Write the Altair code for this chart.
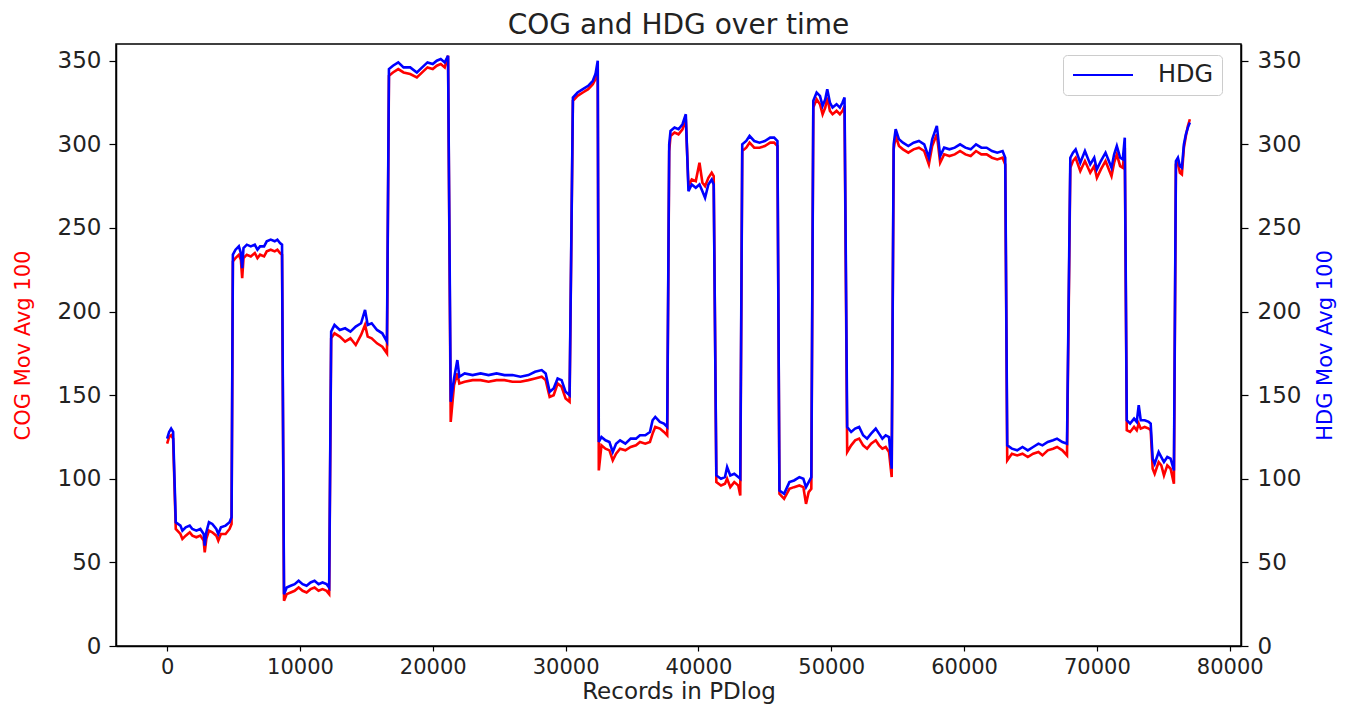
import altair as alt
import pandas as pd

# Record index (x) and moving-average values
records = [
    0, 150, 300, 450, 650,
    1000, 1150, 1400, 1700, 1900, 2200, 2500, 2750, 2830, 2950, 3150, 3400, 3700, 3850, 4050, 4400, 4700, 4850,
    4950, 5150, 5400, 5550, 5650, 5750, 6000, 6300, 6600, 6800, 7000, 7300, 7500, 7800, 8100, 8300, 8500, 8650,
    8800, 9000, 9300, 9600, 9900, 10200, 10500, 10800, 11100, 11400, 11700, 12000, 12200,
    12350, 12600, 13000, 13400, 13800, 14200, 14600, 14900, 15100, 15400, 15800, 16200, 16550,
    16700, 17000, 17400, 17800, 18300, 18800, 19200, 19600, 20000, 20300, 20600, 20900, 21150,
    21350, 21600, 21850, 22000, 22400, 23000, 23600, 24200, 24800, 25400, 26000, 26600, 27200, 27700, 28200, 28500, 28800, 29100, 29400, 29700, 30000, 30300,
    30550, 30900, 31300, 31700, 32050, 32250, 32420,
    32500, 32700, 33000, 33300, 33550, 33800, 34100, 34500, 34900, 35300, 35600, 36000, 36350, 36550, 36750, 37100, 37400, 37650,
    37800, 37900, 38200, 38500, 38800, 39050,
    39250, 39500, 39800, 40080, 40300, 40500, 40750, 41000, 41150,
    41350, 41700, 42000, 42160, 42400, 42700, 43000, 43150,
    43300, 43600, 43850, 44200, 44600, 45000, 45400, 45700, 45950,
    46100, 46450, 46850, 47200, 47600, 47900, 48100, 48300, 48500,
    48650, 48900, 49150, 49350, 49550, 49700, 49900, 50100, 50400, 50650, 50850, 51000,
    51200, 51500, 51800, 52100, 52400, 52700, 53000, 53350, 53600, 53850, 54100, 54350, 54550,
    54700, 54850, 55100, 55400, 55800, 56200, 56600, 57000, 57350, 57600, 57950, 58200, 58500, 58900, 59300, 59700, 60100, 60500, 60900, 61300, 61700, 62100, 62500, 62900, 63100,
    63250, 63600, 64000, 64400, 64800, 65200, 65600, 65900, 66300, 66700, 67000, 67400, 67750,
    68000, 68200, 68400, 68750, 69100, 69500, 69800, 70000, 70300, 70650, 70900, 71100, 71300, 71500, 71750, 71950, 72100,
    72250, 72500, 72800, 73000, 73150, 73300, 73600, 73900, 74050,
    74200, 74350, 74650, 74850, 75050, 75300, 75550, 75800,
    75950, 76100, 76250, 76400, 76550, 76700, 76850, 77000,
]

cog = [
    121, 125, 126, 124, 70,
    67, 64, 66, 68, 66, 65, 66, 63, 56, 64, 69, 68, 66, 63, 67, 67, 70, 73,
    230, 232, 234, 231, 220, 232, 234, 233, 235, 232, 234, 233, 236, 237, 236, 237, 235, 234,
    27, 31, 32, 33, 35, 33, 32, 34, 35, 33, 34, 33, 31,
    184, 187, 185, 182, 184, 180, 186, 192, 185, 184, 181, 179, 175,
    341, 343, 345, 343, 342, 340, 343, 346, 345, 347, 348, 346, 353,
    134, 156, 163, 157, 158, 159, 159, 158, 159, 159, 158, 158, 159, 160, 161, 159, 149, 150, 157, 155, 148, 146,
    326, 329, 331, 333, 336, 339, 345,
    105, 120, 118, 117, 111, 115, 118, 117, 119, 120, 122, 121, 122, 127, 131, 130, 128, 126,
    296, 305, 307, 306, 309, 315,
    275, 279, 278, 289, 277, 275, 280, 283, 281,
    98, 96, 97, 100, 95, 98, 96, 90,
    296, 298, 301, 298, 298, 299, 301, 301, 299,
    91, 88, 94, 95, 96, 95, 85, 92, 94,
    322, 327, 324, 318, 322, 328, 320, 318, 320, 318, 320, 323,
    116, 120, 123, 124, 120, 118, 121, 123, 120, 118, 119, 116, 101,
    297, 305, 299, 297, 295, 297, 298, 296, 288, 299, 306, 289, 294, 293, 294, 296, 294, 293, 296, 294, 294, 292, 291, 292, 288,
    111, 115, 114, 115, 113, 115, 116, 114, 117, 118, 119, 117, 114,
    286, 290, 292, 284, 290, 283, 287, 280, 285, 290, 285, 281, 289, 294, 287, 286, 298,
    129, 128, 131, 129, 133, 130, 131, 130, 129,
    106, 103, 110, 108, 102, 108, 106, 97,
    288, 289, 283, 282, 298, 305, 311, 315,
]

hdg = [
    124, 128, 130, 128, 74,
    72, 69, 71, 72, 70, 69, 70, 67, 60, 68, 74, 73, 70, 67, 71, 72, 74, 77,
    234, 237, 239, 235, 226, 238, 240, 239, 240, 237, 239, 239, 242, 243, 242, 243, 241, 240,
    31, 35, 36, 37, 39, 37, 36, 38, 39, 37, 38, 37, 35,
    188, 192, 189, 190, 188, 191, 193, 201, 192, 193, 189, 187, 182,
    345, 347, 349, 346, 346, 343, 346, 349, 348, 350, 351, 349, 353,
    146, 160, 171, 161, 163, 162, 163, 162, 163, 162, 162, 161, 162, 164, 165, 163, 152, 154, 160, 159, 152, 150,
    328, 331, 333, 335, 338, 342, 350,
    122, 125, 123, 122, 116, 121, 123, 121, 124, 124, 126, 126, 128, 135, 137, 134, 133, 131,
    300, 308, 310, 309, 312, 318,
    272, 276, 274, 276, 272, 268, 276, 279, 276,
    102, 100, 101, 107, 102, 103, 101, 100,
    300, 302, 305, 302, 301, 302, 304, 304, 302,
    93, 91, 98, 99, 101, 100, 95, 98, 101,
    326, 331, 329, 323, 327, 333, 325, 322, 324, 322, 325, 328,
    131, 128, 130, 131, 126, 124, 127, 130, 127, 124, 126, 125, 106,
    300, 309, 303, 301, 299, 301, 302, 300, 292, 303, 311, 293, 298, 297, 298, 300, 298, 297, 300, 298, 298, 296, 295, 296, 292,
    120, 118, 117, 119, 117, 119, 121, 120, 122, 123, 124, 122, 121,
    292, 295, 297, 289, 296, 288, 292, 285, 290, 295, 290, 286, 294, 299, 292, 291, 304,
    135, 133, 136, 134, 144, 135, 135, 134, 133,
    112, 109, 116, 113, 110, 113, 112, 105,
    290, 292, 287, 286, 300, 306, 310, 313,
]

x_ticks = [0, 10000, 20000, 30000, 40000, 50000, 60000, 70000, 80000]
y_ticks = [0, 50, 100, 150, 200, 250, 300, 350]

df = pd.DataFrame({"rec": records, "cog": cog, "hdg": hdg})

FONT = "DejaVu Sans"
TXT = "#222222"

x_enc = alt.X(
    "rec:Q",
    scale=alt.Scale(domain=[-3850, 80850], nice=False, zero=False),
    axis=alt.Axis(
        values=x_ticks, format="d", title="Records in PDlog",
        tickSize=5, labelPadding=5, labelFontSize=21,
        titleFontSize=23, titleY=52, titleBaseline="alphabetic",
    ),
)

base = alt.Chart(df)

cog_line = base.mark_line(color="#ff0000", strokeWidth=2.6).encode(
    x=x_enc,
    y=alt.Y(
        "cog:Q",
        scale=alt.Scale(domain=[0, 360], nice=False, zero=False),
        axis=alt.Axis(
            orient="left", values=y_ticks, title="COG Mov Avg 100",
            titleColor="#ff0000", tickSize=7, labelPadding=8, labelFontSize=23,
            titleFontSize=21, titleAngle=270, titleX=-93, titleY=301,
            titleAlign="center", titleBaseline="middle",
        ),
    ),
)

hdg_line = base.transform_calculate(series="'HDG'").mark_line(strokeWidth=2.6).encode(
    x=x_enc,
    y=alt.Y(
        "hdg:Q",
        scale=alt.Scale(domain=[0, 360], nice=False, zero=False),
        axis=alt.Axis(
            orient="right", values=y_ticks, title="HDG Mov Avg 100",
            titleColor="#0000ff", tickSize=7, labelPadding=9, labelFontSize=23,
            titleFontSize=21, titleAngle=270, titleX=84, titleY=301,
            titleAlign="center", titleBaseline="middle",
        ),
    ),
    color=alt.Color(
        "series:N",
        scale=alt.Scale(domain=["HDG"], range=["#0000ff"]),
        legend=alt.Legend(
            title=None, orient="none", legendX=947, legendY=11,
            symbolType="M-1,0H5", symbolSize=400, symbolStrokeWidth=2,
            labelFontSize=24, labelOffset=63, padding=8,
            fillColor="white", strokeColor="#cccccc", cornerRadius=4,
            labelColor=TXT, labelFont=FONT,
        ),
    ),
)

chart = (
    alt.layer(cog_line, hdg_line)
    .resolve_scale(y="independent")
    .properties(
        width=1125,
        height=602,
        title=alt.TitleParams(
            "COG and HDG over time", fontSize=28, font=FONT, color=TXT,
            fontWeight="normal", anchor="middle", offset=4,
        ),
        padding={"left": 108, "top": 36, "right": 110, "bottom": 60},
        autosize=alt.AutoSizeParams(type="none"),
    )
    .configure(font=FONT)
    .configure_view(stroke="#000000", strokeWidth=1.5)
    .configure_axis(
        grid=False, domainColor="#000000", domainWidth=1.5,
        tickColor="#000000", tickWidth=1.2,
        labelColor=TXT, labelFont=FONT, titleFont=FONT,
        titleColor=TXT, titleFontWeight="normal",
    )
)

chart.save("out.html", embed_options={"renderer": "svg", "actions": False})
